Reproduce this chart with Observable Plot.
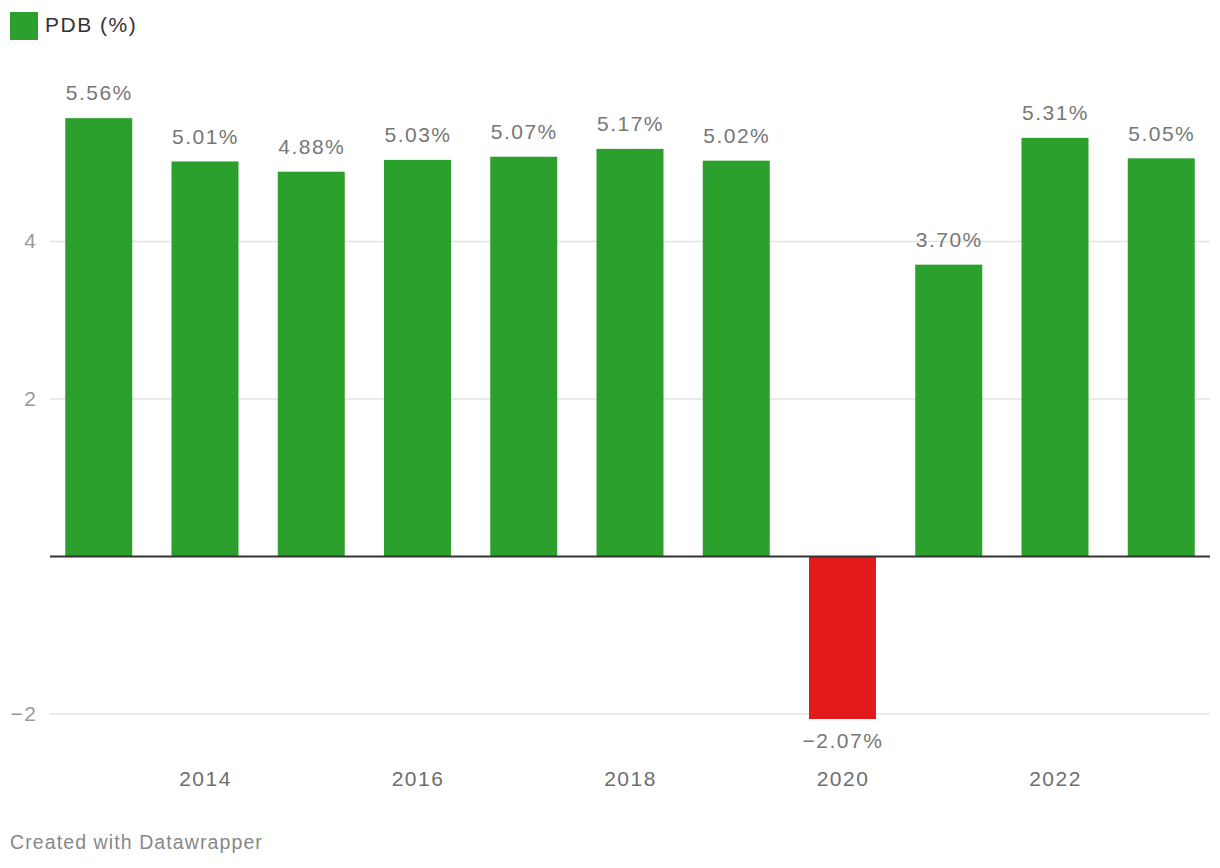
<!DOCTYPE html>
<html>
<head>
<meta charset="utf-8">
<script src="https://cdn.jsdelivr.net/npm/d3@7"></script>
<script src="https://cdn.jsdelivr.net/npm/@observablehq/plot@0.6"></script>
<style>
  html, body { margin: 0; padding: 0; background: #fff; }
  body { width: 1220px; height: 868px; font-family: "Liberation Sans", Arial, Helvetica, sans-serif; position: relative; overflow: hidden; }
  #legend { height: 55px; position: relative; }
  #legend .sw { position: absolute; left: 10px; top: 12px; width: 28px; height: 28px; background: #2ca02c; }
  #legend .lb { position: absolute; left: 45px; top: 12px; font-size: 21px; letter-spacing: 1.5px; color: #333; line-height: 26px; }
  #chart svg { display: block; }
  #caption { position: absolute; left: 10px; top: 830px; font-size: 19.5px; letter-spacing: 1.1px; color: #888; line-height: 24px; }
  #chart text { letter-spacing: 1.5px; }
</style>
</head>
<body>
<div id="legend"><div class="sw"></div><div class="lb">PDB (%)</div></div>
<div id="chart"></div>
<div id="caption">Created with Datawrapper</div>
<script>
const years = [2013, 2014, 2015, 2016, 2017, 2018, 2019, 2020, 2021, 2022, 2023];
const pdb = [5.56, 5.01, 4.88, 5.03, 5.07, 5.17, 5.02, -2.07, 3.70, 5.31, 5.05];
const yTicks = [-2, 2, 4];
const xTickYears = [2014, 2016, 2018, 2020, 2022];
const seriesName = "PDB (%)";

const data = years.map((y, i) => ({year: y, value: pdb[i]}));
const fmt = v => (v < 0 ? "\u2212" : "") + Math.abs(v).toFixed(2) + "%";
const pos = data.filter(d => d.value >= 0);
const neg = data.filter(d => d.value < 0);

const chart = Plot.plot({
  width: 1220,
  height: 760,
  marginLeft: 50,
  marginRight: 10,
  marginTop: 28.5,
  marginBottom: 62.125,
  style: {fontFamily: '"Liberation Sans", Arial, Helvetica, sans-serif', background: "#fff"},
  x: {type: "band", domain: years, paddingInner: 0.3694, paddingOuter: 0.1435, round: false, axis: null},
  y: {domain: [-2.5, 6], axis: null},
  marks: [
    Plot.ruleY(yTicks, {stroke: "#e3e3e3", strokeWidth: 1.5}),
    Plot.text(yTicks, {frameAnchor: "left", y: d => d, text: d => (d < 0 ? "\u2212" : "") + Math.abs(d), dx: -13, textAnchor: "end", fontSize: 21, fill: "#9a9a9a", lineAnchor: "middle"}),
    Plot.barY(data, {x: "year", y: "value", fill: d => d.value < 0 ? "#e31a1c" : "#2ca02c"}),
    Plot.ruleY([0], {stroke: "#333", strokeWidth: 2}),
    Plot.text(pos, {x: "year", y: "value", text: d => fmt(d.value), dy: -25, fontSize: 21, fill: "#777", lineAnchor: "middle"}),
    Plot.text(neg, {x: "year", y: "value", text: d => fmt(d.value), dy: 22, fontSize: 21, fill: "#777", lineAnchor: "middle"}),
    Plot.axisX(xTickYears, {tickSize: 0, tickPadding: 18, fontSize: 21, color: "#6e6e6e", label: null, tickFormat: d => String(d)})
  ]
});
document.getElementById("chart").appendChild(chart);
</script>
</body>
</html>
